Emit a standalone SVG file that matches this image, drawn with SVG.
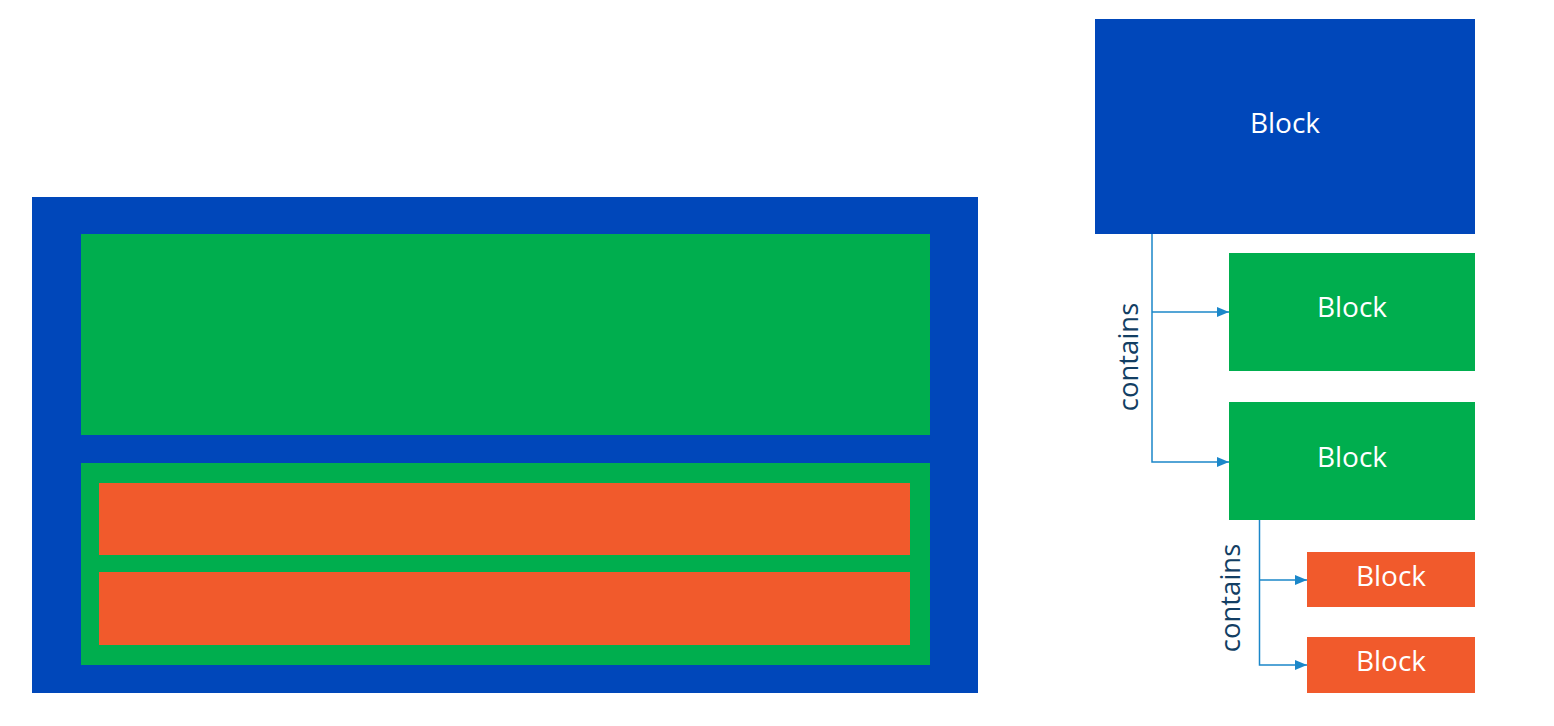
<svg xmlns="http://www.w3.org/2000/svg" width="1554" height="726" viewBox="0 0 1554 726">
<style>
.blue{fill:#0047BA}
.green{fill:#00AE4E}
.orange{fill:#F15A2C}
.lbl{font-family:"Open Sans","Noto Sans",sans-serif;font-size:28px;fill:#FFFFFF;text-anchor:middle;dominant-baseline:central}
.rel{font-family:"Open Sans","Noto Sans",sans-serif;font-size:27.5px;fill:#123E63;text-anchor:middle;dominant-baseline:central}
.conn{fill:none;stroke:#1B87C9;stroke-width:1.5}
</style>
<defs>
<marker id="arr" viewBox="0 0 12 10" refX="12" refY="5" markerWidth="12" markerHeight="10" markerUnits="userSpaceOnUse" orient="auto">
<path d="M0,0 L12,5 L0,10 z" fill="#1B87C9"/>
</marker>
</defs>
<g id="nested">
<rect class="blue" x="32" y="197" width="946" height="496"/>
<rect class="green" x="81" y="234" width="849" height="201"/>
<rect class="green" x="81" y="463" width="849" height="202"/>
<rect class="orange" x="99" y="483" width="811" height="72"/>
<rect class="orange" x="99" y="572" width="811" height="73"/>
</g>
<g id="node-root">
<rect class="blue" x="1095" y="19" width="380" height="215"/>
<text class="lbl" x="1285" y="122">Block</text>
</g>
<g id="node-g1">
<rect class="green" x="1229" y="253" width="246" height="118"/>
<text class="lbl" x="1352" y="306">Block</text>
</g>
<g id="node-g2">
<rect class="green" x="1229" y="402" width="246" height="118"/>
<text class="lbl" x="1352" y="456">Block</text>
</g>
<g id="node-o1">
<rect class="orange" x="1307" y="552" width="168" height="55"/>
<text class="lbl" x="1391" y="575">Block</text>
</g>
<g id="node-o2">
<rect class="orange" x="1307" y="637" width="168" height="56"/>
<text class="lbl" x="1391" y="660">Block</text>
</g>
<g id="connectors">
<path class="conn" d="M1152,234 V462 H1229" marker-end="url(#arr)"/>
<path class="conn" d="M1152,312 H1229" marker-end="url(#arr)"/>
<path class="conn" d="M1259.5,520 V665 H1307" marker-end="url(#arr)"/>
<path class="conn" d="M1259.5,580 H1307" marker-end="url(#arr)"/>
<text class="rel" transform="translate(1127,357) rotate(-90)">contains</text>
<text class="rel" transform="translate(1229,598) rotate(-90)">contains</text>
</g>
</svg>
